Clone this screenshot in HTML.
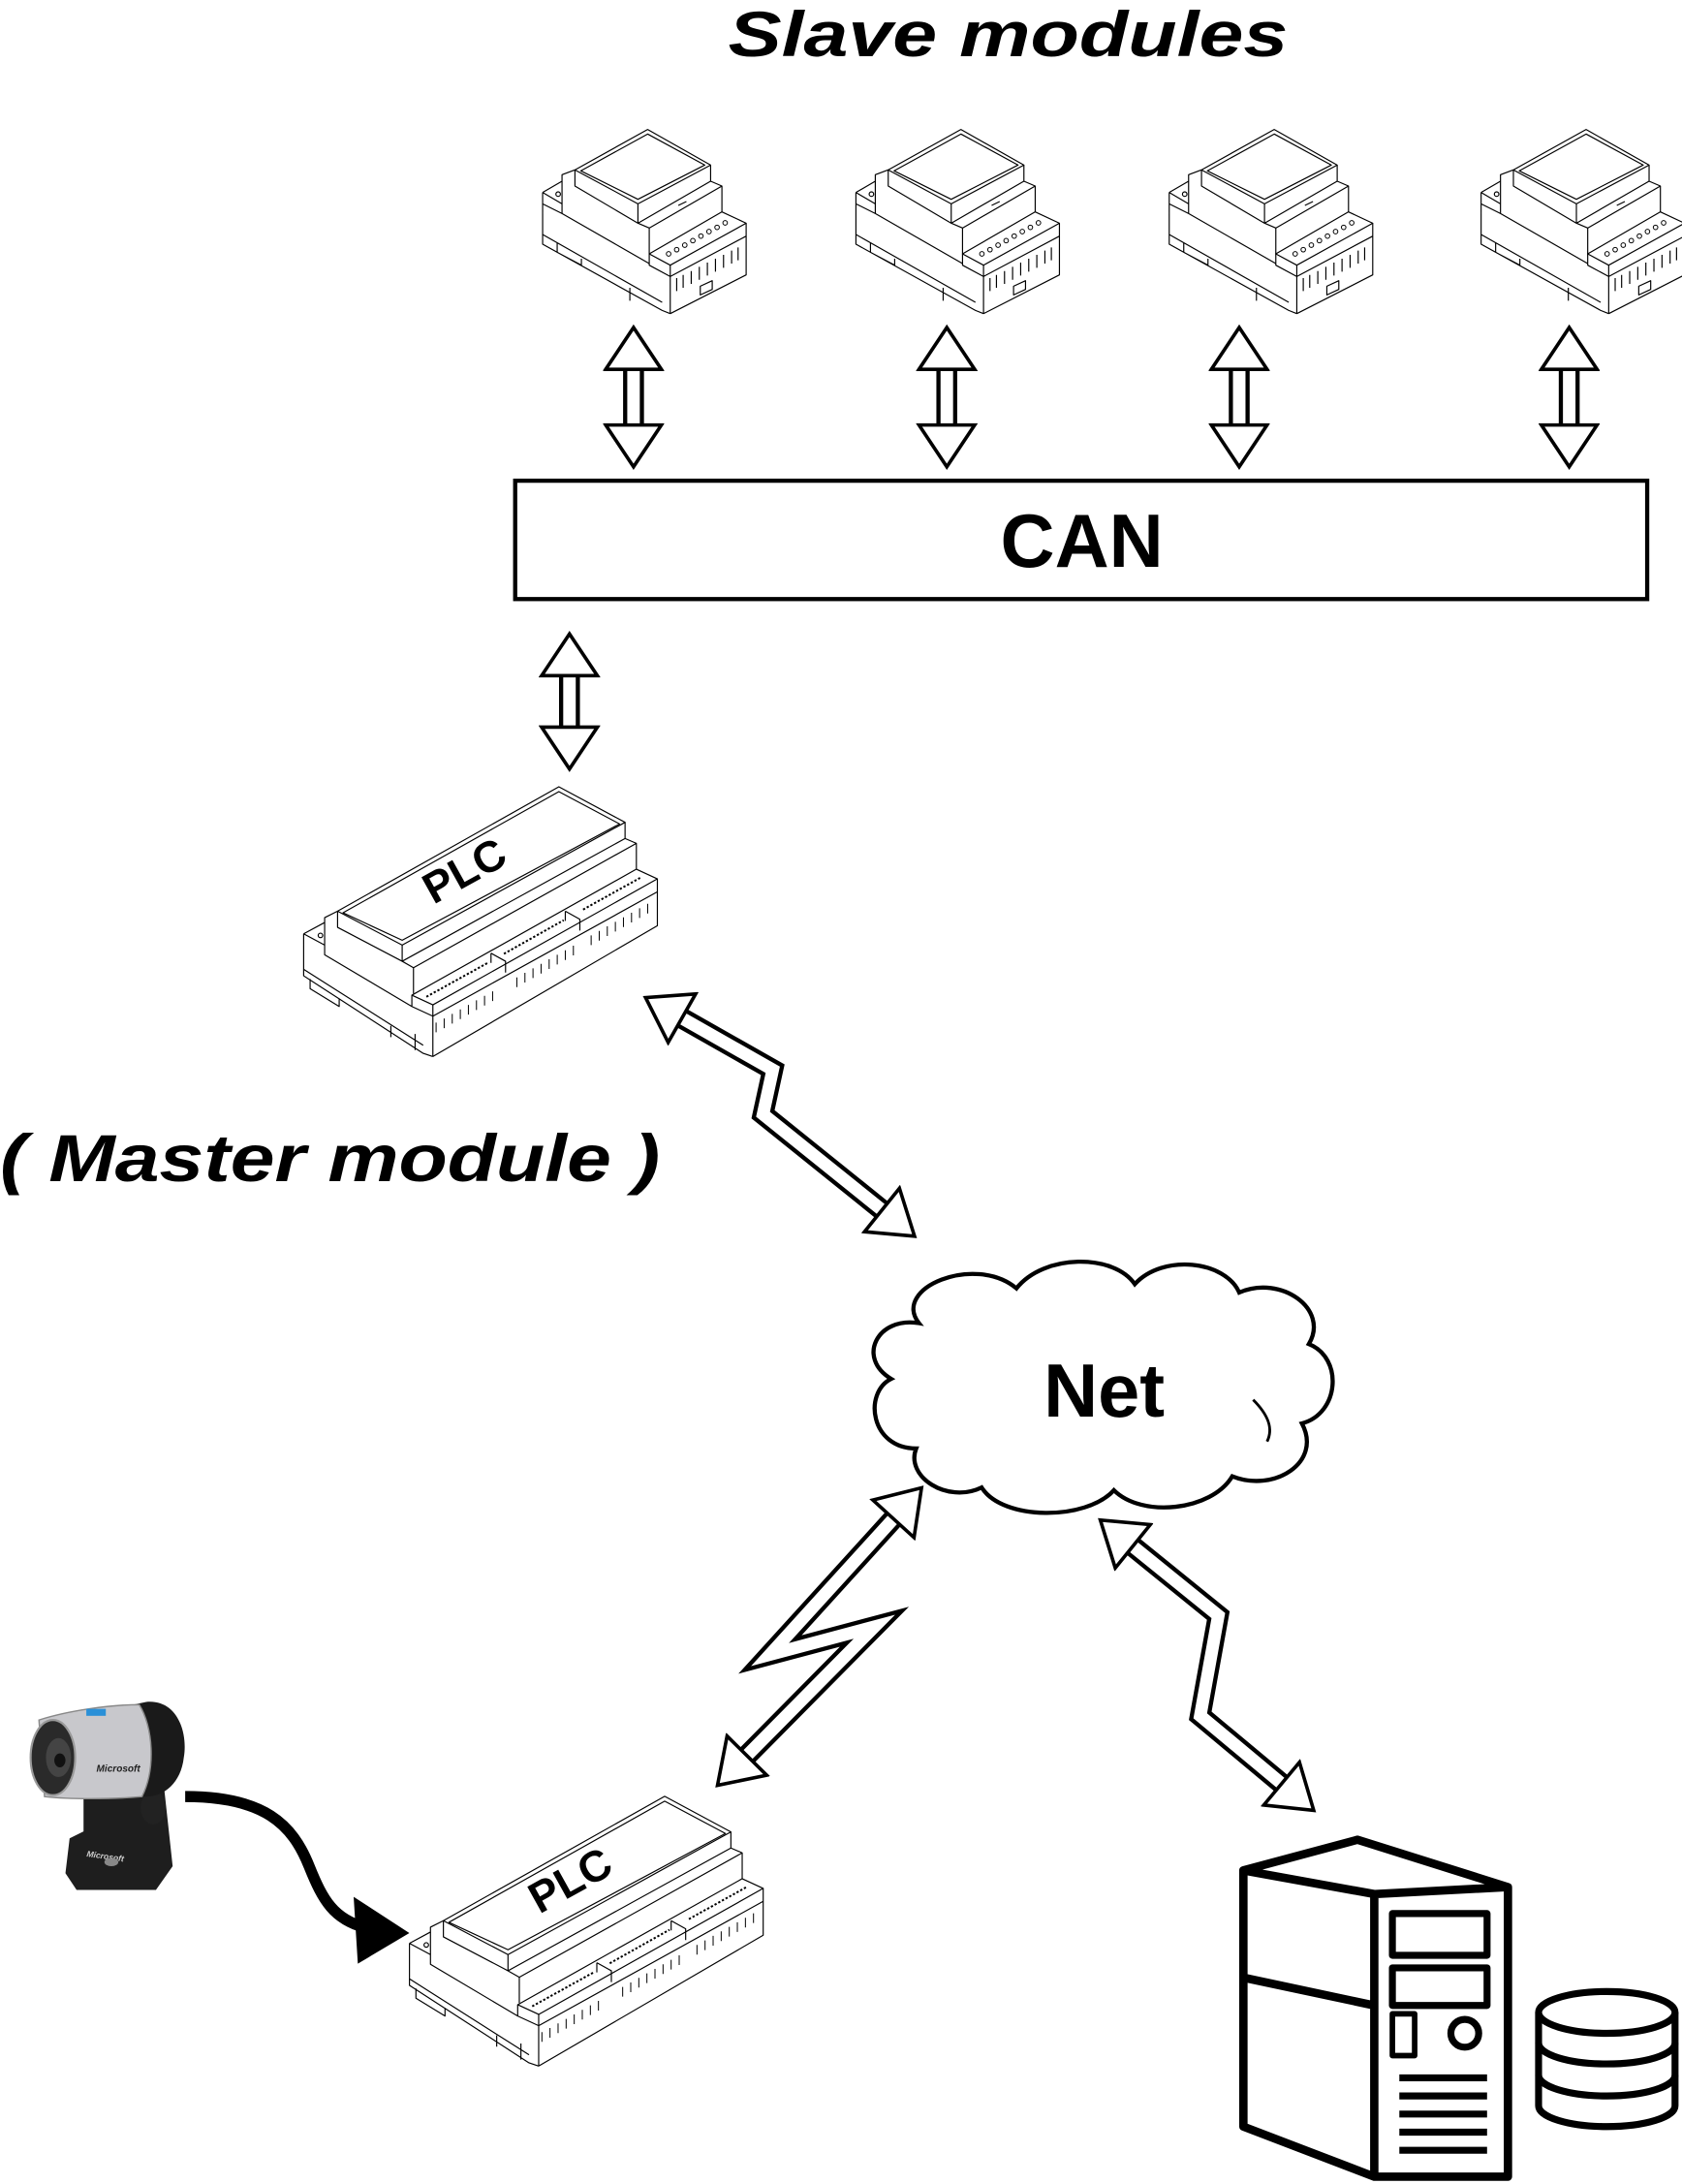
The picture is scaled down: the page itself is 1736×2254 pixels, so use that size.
<!DOCTYPE html>
<html><head><meta charset="utf-8"><style>
html,body{margin:0;padding:0;background:#fff;}
svg{display:block;}
text{font-family:"Liberation Sans",sans-serif;font-weight:bold;}
</style></head><body>
<svg width="1736" height="2254" viewBox="0 0 1208 1568" xmlns="http://www.w3.org/2000/svg">
<defs>
<marker id="hd" viewBox="-2 -22 36 44" markerWidth="36" markerHeight="44" refX="2" refY="0" orient="auto-start-reverse" markerUnits="userSpaceOnUse">
<path d="M0,-20 L30,0 L0,20 Z" fill="#fff" stroke="#000" stroke-width="2.5" stroke-linejoin="miter"/>
</marker>
<g id="slave" fill="none" stroke="#000" stroke-width="3.5" stroke-linejoin="round">
<path d="M160,165 L385,40 L580,150 L355,270 Z" fill="#fff"/>
<path d="M178,168 L385,54 L562,150 L355,256 Z"/>
<path d="M160,165 L160,215 L355,330 M355,270 L355,330 L390,345 M580,150 L580,200 L355,330 M580,200 L615,215 L615,295 M615,215 L390,345 L390,425"/>
<path d="M390,425 L615,295 L690,330 L455,460 Z" fill="#fff"/>
<path d="M455,460 L455,610 M690,330 L690,490 L455,610 M390,425 L390,460 L455,495 M455,495 L690,370"/>
<path d="M60,235 L120,200 L120,180 L160,165 M60,235 L60,395 L430,600 L455,610 M60,235 L120,270 L120,200 M120,270 L120,300 L390,455 M60,270 L120,300 M60,365 L430,575 M105,390 L105,420 L180,460 L180,440 M330,530 L330,570"/>
<circle cx="108" cy="240" r="7"/>
<g stroke-width="3"><circle cx="450" cy="425" r="7"/><circle cx="475" cy="412" r="7"/><circle cx="500" cy="398" r="7"/><circle cx="525" cy="384" r="7"/><circle cx="550" cy="370" r="7"/><circle cx="575" cy="356" r="7"/><circle cx="600" cy="343" r="7"/><circle cx="625" cy="329" r="7"/></g>
<path d="M475,500 L475,540 M495,490 L495,530 M520,478 L520,518 M545,465 L545,505 M570,452 L570,492 M595,440 L595,480 M620,428 L620,468 M645,415 L645,455 M665,405 L665,445"/>
<path d="M548,525 L585,508 L585,535 L548,552 Z"/>
<path d="M480,275 L505,263"/>
</g>
<g id="plc" fill="none" stroke="#000" stroke-width="3.5" stroke-linejoin="round">
<path d="M145,420 L830,35 L1035,145 L345,525 Z" fill="#fff"/>
<path d="M162,425 L830,50 L1018,150 L345,510 Z"/>
<path d="M145,420 L145,470 L345,575 M345,525 L345,575 L380,595 M1035,145 L1035,195 L345,575 M1035,195 L1070,210 L1070,290 M1070,210 L380,595 L380,675"/>
<path d="M375,680 L1070,290 L1135,320 L440,710 Z" fill="#fff"/>
<path d="M440,710 L440,870 M1135,320 L1135,465 L440,870 M375,680 L375,715 L440,745 M440,745 L1135,360 M620,550 L665,575 L665,610 M620,550 L620,580 M850,420 L895,445 L895,480 M850,420 L850,450"/>
<path d="M40,490 L105,455 L105,440 L145,420 M40,490 L40,620 L410,860 L440,870 M40,490 L105,525 L105,455 M105,525 L105,555 L375,715 M40,600 L410,835 M60,630 L60,660 L150,715 L150,690 M310,775 L310,810 M385,800 L385,850"/>
<circle cx="92" cy="495" r="7"/>
<g stroke-width="3">
<path d="M450,765 L450,795 M475,752 L475,782 M500,738 L500,768 M525,724 L525,754 M550,710 L550,740 M575,696 L575,726 M600,682 L600,712 M625,668 L625,698"/>
<path d="M700,625 L700,655 M725,611 L725,641 M750,597 L750,627 M775,583 L775,613 M800,569 L800,599 M825,555 L825,585 M850,541 L850,571 M875,527 L875,557"/>
<path d="M930,495 L930,525 M955,481 L955,511 M980,467 L980,497 M1005,453 L1005,483 M1030,439 L1030,469 M1055,425 L1055,455 M1080,411 L1080,441 M1105,397 L1105,427"/>
<path d="M420,685 L610,580 M660,552 L845,448 M905,415 L1085,315" stroke-width="6" stroke-dasharray="7 6"/>
</g>
<text x="0" y="0" transform="translate(560,335) rotate(-29)" font-size="135" fill="#000" stroke="none" text-anchor="middle" font-family="Liberation Sans, sans-serif" font-weight="bold">PLC</text>
</g>
</defs>

<text x="523" y="40" font-size="46" font-style="italic" textLength="402" lengthAdjust="spacingAndGlyphs">Slave modules</text>

<g transform="translate(375.8,83.5) scale(0.232)"><use href="#slave"/></g>
<g transform="translate(600.8,83.5) scale(0.232)"><use href="#slave"/></g>
<g transform="translate(825.8,83.5) scale(0.232)"><use href="#slave"/></g>
<g transform="translate(1049.8,83.5) scale(0.232)"><use href="#slave"/></g>

<path d="M660,950 C640,925 700,900 730,925 C750,900 800,900 815,922 C835,900 880,905 890,928 C920,915 955,940 940,965 C965,975 962,1015 935,1022 C950,1050 915,1072 885,1060 C870,1085 820,1090 800,1070 C780,1092 720,1092 705,1068 C680,1080 650,1060 658,1040 C625,1040 620,1000 640,990 C615,975 630,945 660,950 Z" fill="#fff" stroke="#000" stroke-width="3"/>
<path d="M900,1005 C910,1015 915,1025 910,1035" fill="none" stroke="#000" stroke-width="2"/>
<text x="793" y="1017" font-size="54" text-anchor="middle">Net</text>

<g fill="none" stroke-linecap="butt">
<g stroke="#000" stroke-width="15">
<path d="M455,263 L455,307"/><path d="M680,263 L680,307"/><path d="M890,263 L890,307"/><path d="M1127,263 L1127,307"/><path d="M409,483 L409,524"/>
<path d="M488,730 L555,768 L548,800 L635,870" stroke-linejoin="miter"/>
<path d="M535,1262 L628,1168 L553,1188 L643,1089" stroke-linejoin="miter"/>
<path d="M812,1109 L875,1160 L862,1232 L922,1282" stroke-linejoin="miter"/>
</g>
<g stroke="#fff" stroke-width="9">
<path d="M455,263 L455,307" marker-start="url(#hd)" marker-end="url(#hd)"/>
<path d="M680,263 L680,307" marker-start="url(#hd)" marker-end="url(#hd)"/>
<path d="M890,263 L890,307" marker-start="url(#hd)" marker-end="url(#hd)"/>
<path d="M1127,263 L1127,307" marker-start="url(#hd)" marker-end="url(#hd)"/>
<path d="M409,483 L409,524" marker-start="url(#hd)" marker-end="url(#hd)"/>
<path d="M488,730 L555,768 L548,800 L635,870" stroke-linejoin="miter" marker-start="url(#hd)" marker-end="url(#hd)"/>
<path d="M535,1262 L628,1168 L553,1188 L643,1089" stroke-linejoin="miter" marker-start="url(#hd)" marker-end="url(#hd)"/>
<path d="M812,1109 L875,1160 L862,1232 L922,1282" stroke-linejoin="miter" marker-start="url(#hd)" marker-end="url(#hd)"/>
</g>
</g>

<rect x="370" y="345" width="813" height="85" fill="#fff" stroke="#000" stroke-width="3"/>
<text x="777" y="407" font-size="54" text-anchor="middle">CAN</text>

<g transform="translate(208.8,556.7) scale(0.232)"><use href="#plc"/></g>
<g transform="translate(284.8,1281.7) scale(0.232)"><use href="#plc"/></g>

<text x="0" y="848" font-size="48" font-style="italic" textLength="474" lengthAdjust="spacingAndGlyphs">( Master module )</text>

<!-- webcam -->
<g>
<path d="M60,1288 L118,1285 L124,1340 L112,1357 L55,1357 L47,1345 L50,1320 L60,1315 Z" fill="#1e1e1e"/>
<ellipse cx="110" cy="1298" rx="9" ry="12" fill="#222"/>
<path d="M30,1238 L105,1222 C128,1220 135,1245 132,1262 C130,1280 118,1290 105,1290 L30,1285 Z" fill="#1a1a1a"/>
<path d="M28,1235 C50,1228 80,1224 100,1224 C110,1240 112,1270 102,1290 C80,1292 50,1292 32,1290 Z" fill="#c8c8cc" stroke="#888" stroke-width="1"/>
<ellipse cx="38" cy="1262" rx="16" ry="27" fill="#2a2a2a" stroke="#999" stroke-width="1.5"/>
<ellipse cx="42" cy="1262" rx="9" ry="14" fill="#444"/>
<ellipse cx="43" cy="1264" rx="4" ry="5" fill="#111"/>
<rect x="62" y="1227" width="14" height="5" fill="#2a90d8"/>
<text x="85" y="1272" font-size="7" font-style="italic" fill="#222" text-anchor="middle">Microsoft</text>
<text x="62" y="1333" font-size="6" font-style="italic" fill="#ccc" transform="rotate(8 62 1333)">Microsoft</text>
<ellipse cx="80" cy="1337" rx="5" ry="3" fill="#888"/>
</g>
<path d="M133,1290 C190,1290 210,1310 222,1340 C232,1365 240,1378 262,1384" fill="none" stroke="#000" stroke-width="8"/>
<path d="M294,1388 L254,1362 L257,1410 Z" fill="#000"/>

<!-- server -->
<g fill="none" stroke="#000" stroke-width="6" stroke-linejoin="round">
<path d="M893,1343 L975,1321 L1083,1355 L1083,1563 L987,1563 L893,1527 Z" fill="#fff"/>
<path d="M893,1343 L987,1360 L1083,1355 M987,1360 L987,1563 M893,1420 L987,1440"/>
<rect x="1000" y="1374" width="68" height="30" stroke-width="5"/>
<rect x="1000" y="1413" width="68" height="27" stroke-width="5"/>
<rect x="1000" y="1446" width="16" height="30" stroke-width="4"/>
<circle cx="1052" cy="1460" r="10" stroke-width="5"/>
<path d="M1005,1492 L1068,1492 M1005,1505 L1068,1505 M1005,1518 L1068,1518 M1005,1531 L1068,1531 M1005,1544 L1068,1544" stroke-width="5"/>
</g>
<g fill="#fff" stroke="#000" stroke-width="5">
<path d="M1105,1445 L1105,1512 A49,15 0 0 0 1203,1512 L1203,1445"/>
<ellipse cx="1154" cy="1445" rx="49" ry="15"/>
<path d="M1105,1467 A49,15 0 0 0 1203,1467 M1105,1490 A49,15 0 0 0 1203,1490" fill="none"/>
</g>
</svg>
</body></html>
